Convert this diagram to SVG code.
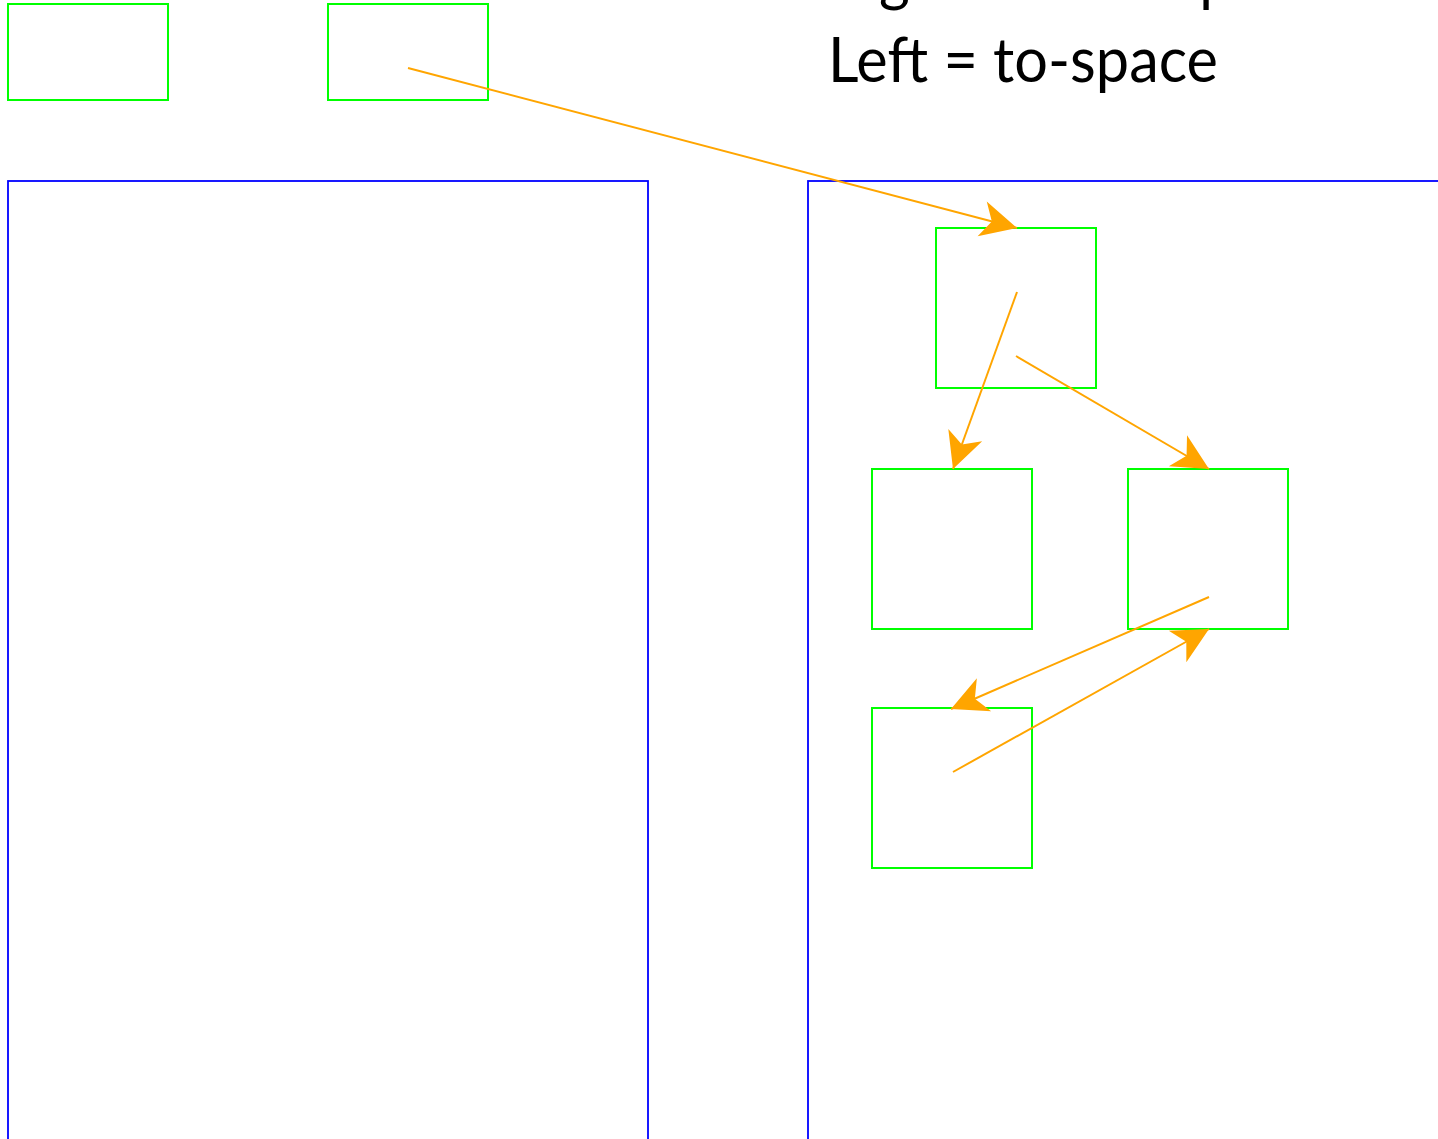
<svg xmlns="http://www.w3.org/2000/svg" width="1438" height="1139" viewBox="0 0 1438 1139">
<style>
.space{fill:none;stroke:#0000ff;stroke-width:1.8}
.obj{fill:none;stroke:#00ff00;stroke-width:2}
.ptr{fill:none;stroke:#ffa500;stroke-width:2}
.lbl{font-family:"Lato","Open Sans","Liberation Sans",sans-serif;font-size:62px;fill:#000}
</style>
<defs>
<marker id="arr" markerUnits="userSpaceOnUse" markerWidth="40" markerHeight="40" refX="36" refY="18" orient="auto" overflow="visible">
<path d="M36,18 L0,0 L10,18 L0,36 Z" fill="#ffa500"/>
</marker>
</defs>
<rect width="1438" height="1139" fill="#fff"/>
<g id="title">
<text class="lbl" x="828" y="-1" textLength="493" lengthAdjust="spacingAndGlyphs">Right = from-space</text>
<text class="lbl" x="828" y="82" textLength="390" lengthAdjust="spacingAndGlyphs">Left = to-space</text>
</g>
<g id="to-space"><rect class="space" x="8" y="181" width="640" height="980"/></g>
<g id="from-space"><rect class="space" x="808" y="181" width="660" height="980"/></g>
<g id="root1"><rect class="obj" x="8" y="4" width="160" height="96"/></g>
<g id="root2"><rect class="obj" x="328" y="4" width="160" height="96"/></g>
<g id="objA"><rect class="obj" x="936" y="228" width="160" height="160"/></g>
<g id="objB"><rect class="obj" x="872" y="469" width="160" height="160"/></g>
<g id="objC"><rect class="obj" x="1128" y="469" width="160" height="160"/></g>
<g id="objD"><rect class="obj" x="872" y="708" width="160" height="160"/></g>
<g id="connectors">
<line class="ptr" x1="408" y1="68" x2="1017" y2="228" marker-end="url(#arr)"/>
<line class="ptr" x1="1017" y1="292" x2="953" y2="469" marker-end="url(#arr)"/>
<line class="ptr" x1="1016" y1="356" x2="1209" y2="469" marker-end="url(#arr)"/>
<line class="ptr" x1="1209" y1="597" x2="951" y2="709" marker-end="url(#arr)"/>
<line class="ptr" x1="953" y1="772" x2="1209" y2="629" marker-end="url(#arr)"/>
</g>
</svg>
